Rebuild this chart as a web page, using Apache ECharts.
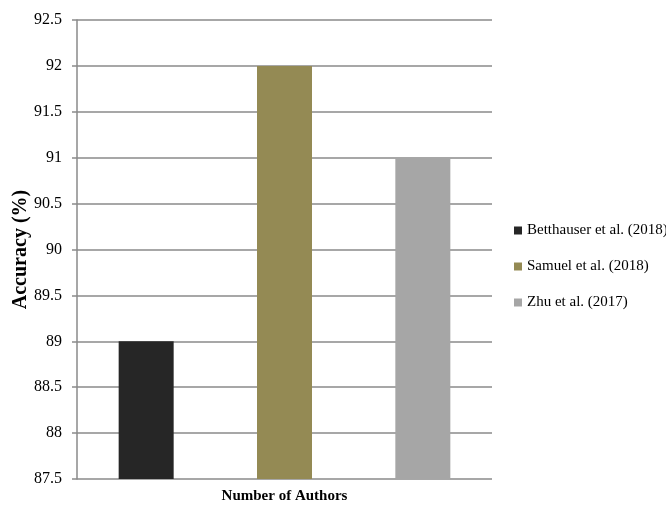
<!DOCTYPE html>
<html>
<head>
<meta charset="utf-8">
<script src="https://cdn.jsdelivr.net/npm/echarts@6/dist/echarts.min.js"></script>
<style>
  html, body { margin: 0; padding: 0; background: #fff; }
  #main { width: 666px; height: 506px; }
</style>
</head>
<body>
<div id="main"></div>
<script>
  // one slot per author, each author its own series (like the Excel legend)
  const authors = ['Betthauser et al. (2018)', 'Samuel et al. (2018)', 'Zhu et al. (2017)'];
  const accuracy = [89, 92, 91];
  const colors = ['#262626', '#948A54', '#A6A6A6'];
  const slots = ['', '', ''];

  const chart = echarts.init(document.getElementById('main'));
  const serif = '"Liberation Serif", "DejaVu Serif", serif';

  const series = authors.map(function (name, i) {
    const d = slots.map(function (s, j) { return j === i ? accuracy[i] : '-'; });
    return {
      name: name,
      type: 'bar',
      stack: 'all',
      data: d,
      barWidth: 55,
      itemStyle: { color: colors[i] },
      emphasis: { disabled: true }
    };
  });

  chart.setOption({
    animation: false,
    grid: { left: 77, right: 174, top: 20, bottom: 27, outerBoundsMode: 'none' },
    legend: {
      orient: 'vertical',
      left: 509,
      top: 218,
      itemWidth: 8,
      itemHeight: 8,
      itemGap: 21,
      icon: 'rect',
      textStyle: { fontFamily: serif, fontSize: 15, color: '#000' },
      data: authors
    },
    xAxis: {
      type: 'category',
      data: slots,
      name: 'Number of Authors',
      nameLocation: 'middle',
      nameGap: 10,
      nameTextStyle: { fontFamily: serif, fontSize: 15, fontWeight: 'bold', color: '#000' },
      axisLine: { show: false },
      axisTick: { show: false },
      axisLabel: { show: false }
    },
    yAxis: {
      type: 'value',
      min: 87.5,
      max: 92.5,
      interval: 0.5,
      name: 'Accuracy (%)',
      nameLocation: 'middle',
      nameGap: 46,
      nameMoveOverlap: false,
      nameTextStyle: { fontFamily: serif, fontSize: 20, fontWeight: 'bold', color: '#000' },
      axisLine: { show: true, lineStyle: { color: '#8a8a8a', width: 1.5 } },
      axisTick: { show: true, length: 5, lineStyle: { color: '#8a8a8a', width: 1.5 } },
      axisLabel: { fontFamily: serif, fontSize: 16, color: '#000', margin: 15 },
      splitLine: { lineStyle: { color: '#8a8a8a', width: 1.5 } }
    },
    series: series
  });
</script>
</body>
</html>
